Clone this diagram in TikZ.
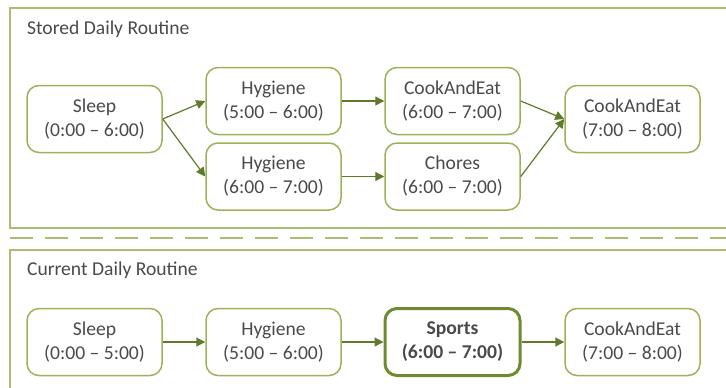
\documentclass[tikz,border=0pt]{standalone}
\usepackage{fontspec}
\setmainfont{Carlito}
\usepackage{tikz}
\usetikzlibrary{arrows.meta}
\definecolor{frameline}{HTML}{A9BE74}
\definecolor{boxline}{HTML}{9BB25A}
\definecolor{arrowline}{HTML}{5F7A2A}
\definecolor{boldline}{HTML}{6E8B30}
\definecolor{textgray}{HTML}{4A4A4A}

\begin{document}
\begin{tikzpicture}[x=0.5pt,y=-0.5pt,
  every node/.style={font=\fontsize{9.8}{12}\selectfont,text=textgray},
  stage/.style={draw=boxline,line width=0.75pt,rounded corners=6pt,
    minimum width=67.5pt,minimum height=33.5pt,align=center,inner sep=0pt},
  current/.style={stage,draw=boldline,line width=1.5pt,font=\fontsize{9.8}{12}\selectfont\bfseries},
  flow/.style={draw=arrowline,line width=0.6pt,-{Triangle[length=4.5pt,width=4.5pt]}},
  frame/.style={draw=frameline,line width=1pt}]
\clip (0,0) rectangle (726,387);
\draw [frame] (10,8) rectangle (760,228);
\draw [frame] (10,250) rectangle (760,420);
\draw [frameline,line width=1pt,dash pattern=on 11.5pt off 6pt] (10,238) -- (740,238);
\node [anchor=west] (storedtitle) at (20,29) {Stored Daily Routine};
\node [anchor=west] (currenttitle) at (20,270) {Current Daily Routine};
% stored routine
\node [stage] (sleepA) at (94.5,119) {Sleep\\(0:00 -- 6:00)};
\node [stage] (hygA) at (273.5,101) {Hygiene\\(5:00 -- 6:00)};
\node [stage] (hygB) at (273.5,176.5) {Hygiene\\(6:00 -- 7:00)};
\node [stage] (cookA) at (452.5,101) {CookAndEat\\(6:00 -- 7:00)};
\node [stage] (chores) at (452.5,176.5) {Chores\\(6:00 -- 7:00)};
\node [stage] (cookB) at (632.5,119) {CookAndEat\\(7:00 -- 8:00)};
\draw [flow] (sleepA.east) -- (hygA.west);
\draw [flow] (sleepA.east) -- (hygB.west);
\draw [flow] (hygA) -- (cookA);
\draw [flow] (hygB) -- (chores);
\draw [flow] (cookA.east) -- (cookB.west);
\draw [flow] (chores.east) -- (cookB.west);
% current routine
\node [stage] (sleepC) at (94.5,342) {Sleep\\(0:00 -- 5:00)};
\node [stage] (hygC) at (273.5,342) {Hygiene\\(5:00 -- 6:00)};
\node [current] (sports) at (452.5,342) {Sports\\(6:00 -- 7:00)};
\node [stage] (cookC) at (632.5,342) {CookAndEat\\(7:00 -- 8:00)};
\draw [flow] (sleepC) -- (hygC);
\draw [flow] (hygC) -- (sports);
\draw [flow] (sports) -- (cookC);
\end{tikzpicture}
\end{document}
